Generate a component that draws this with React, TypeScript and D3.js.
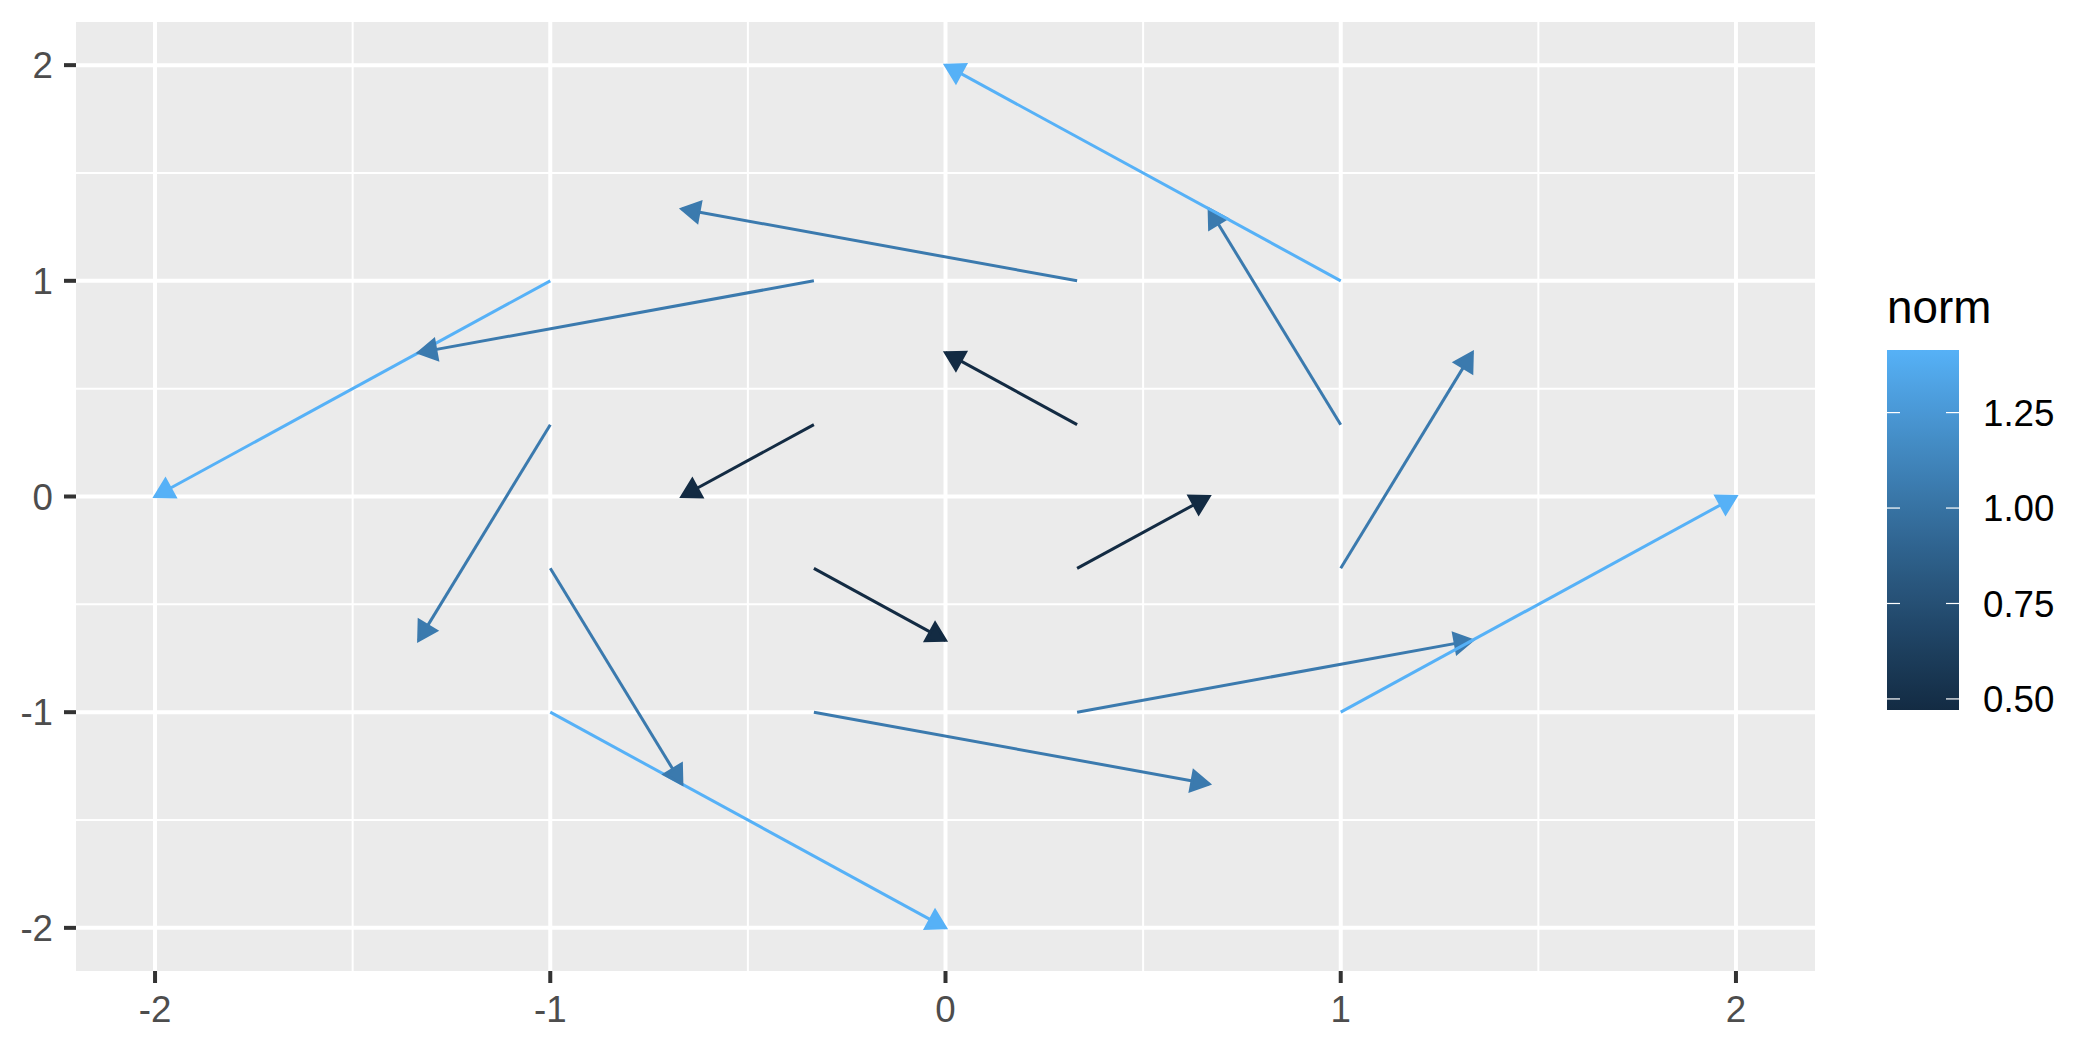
import { useMemo } from 'react';
import * as d3 from 'd3';

// arrow start points, end points and norm
const x0 = [-1, -0.333, 0.333, 1, -1, -0.333, 0.333, 1, -1, -0.333, 0.333, 1, -1, -0.333, 0.333, 1];
const y0 = [-1, -1, -1, -1, -0.333, -0.333, -0.333, -0.333, 0.333, 0.333, 0.333, 0.333, 1, 1, 1, 1];
const x1 = [0, 0.667, 1.333, 2, -0.667, 0, 0.667, 1.333, -1.333, -0.667, 0, 0.667, -2, -1.333, -0.667, 0];
const y1 = [-2, -1.333, -0.667, 0, -1.333, -0.667, 0, 0.667, -0.667, 0, 0.667, 1.333, 0, 0.667, 1.333, 2];
const norm = [1.414, 1.054, 1.054, 1.414, 1.054, 0.471, 0.471, 1.054, 1.054, 0.471, 0.471, 1.054, 1.414, 1.054, 1.054, 1.414];

const axisTicks = [-2, -1, 0, 1, 2];
const minorTicks = [-1.5, -0.5, 0.5, 1.5];
const legendTicks = [0.5, 0.75, 1.0, 1.25];
const legendTitle = 'norm';

const W = 2100;
const H = 1050;
const panel = { left: 76, right: 1815, top: 22, bottom: 971 };
const bar = { left: 1887, width: 72, top: 350, bottom: 710 };
const FONT = '"Liberation Sans", Arial, sans-serif';
const HEAD = 20;

export default function App() {
  const x = d3.scaleLinear().domain([-2.2, 2.2]).range([panel.left, panel.right]);
  const y = d3.scaleLinear().domain([-2.2, 2.2]).range([panel.bottom, panel.top]);
  const nExt = d3.extent(norm) as [number, number];
  const color = d3
    .scaleLinear<string>()
    .domain(nExt)
    .range(['#132B43', '#56B1F7'])
    .interpolate(d3.interpolateLab);
  const barY = d3.scaleLinear().domain(nExt).range([bar.bottom, bar.top]);

  const stops = useMemo(() => d3.range(0, 1.0001, 0.05), []);

  const arrows = x0.map((_, i) => {
    const sx = x(x0[i]);
    const sy = y(y0[i]);
    const ex = x(x1[i]);
    const ey = y(y1[i]);
    const a = Math.atan2(ey - sy, ex - sx);
    const p1 = [ex - HEAD * Math.cos(a - Math.PI / 6), ey - HEAD * Math.sin(a - Math.PI / 6)];
    const p2 = [ex - HEAD * Math.cos(a + Math.PI / 6), ey - HEAD * Math.sin(a + Math.PI / 6)];
    return { sx, sy, ex, ey, head: `${ex},${ey} ${p1[0]},${p1[1]} ${p2[0]},${p2[1]}`, c: color(norm[i]) };
  });

  return (
    <div style={{ position: 'absolute', left: 0, top: 0 }}>
      <svg width={W} height={H} style={{ display: 'block', background: '#fff' }} fontFamily={FONT}>
        <defs>
          <linearGradient id="normGrad" x1="0" y1="1" x2="0" y2="0">
            {stops.map((t) => (
              <stop key={t} offset={t} stopColor={color(nExt[0] + t * (nExt[1] - nExt[0]))} />
            ))}
          </linearGradient>
        </defs>

        {/* panel */}
        <rect
          x={panel.left}
          y={panel.top}
          width={panel.right - panel.left}
          height={panel.bottom - panel.top}
          fill="#EBEBEB"
        />
        {minorTicks.map((t) => (
          <g key={'m' + t}>
            <line x1={x(t)} x2={x(t)} y1={panel.top} y2={panel.bottom} stroke="#fff" strokeWidth={2} />
            <line x1={panel.left} x2={panel.right} y1={y(t)} y2={y(t)} stroke="#fff" strokeWidth={2} />
          </g>
        ))}
        {axisTicks.map((t) => (
          <g key={'M' + t}>
            <line x1={x(t)} x2={x(t)} y1={panel.top} y2={panel.bottom} stroke="#fff" strokeWidth={4} />
            <line x1={panel.left} x2={panel.right} y1={y(t)} y2={y(t)} stroke="#fff" strokeWidth={4} />
          </g>
        ))}

        {/* arrows */}
        {arrows.map((d, i) => (
          <g key={i}>
            <line x1={d.sx} y1={d.sy} x2={d.ex} y2={d.ey} stroke={d.c} strokeWidth={3} />
            <polygon points={d.head} fill={d.c} stroke={d.c} strokeWidth={3} strokeLinejoin="miter" />
          </g>
        ))}

        {/* axes */}
        {axisTicks.map((t) => (
          <g key={'ax' + t}>
            <line x1={x(t)} x2={x(t)} y1={panel.bottom} y2={panel.bottom + 12} stroke="#333333" strokeWidth={4} />
            <text x={x(t)} y={1022} textAnchor="middle" fontSize={36.7} fill="#4D4D4D">
              {t}
            </text>
            <line x1={panel.left - 12} x2={panel.left} y1={y(t)} y2={y(t)} stroke="#333333" strokeWidth={4} />
            <text x={53} y={y(t)} dy="0.36em" textAnchor="end" fontSize={36.7} fill="#4D4D4D">
              {t}
            </text>
          </g>
        ))}

        {/* legend */}
        <text x={bar.left} y={323} fontSize={45.8} fill="#000">
          {legendTitle}
        </text>
        <rect x={bar.left} y={bar.top} width={bar.width} height={bar.bottom - bar.top} fill="url(#normGrad)" />
        {legendTicks.map((t) => (
          <g key={'l' + t}>
            <line x1={bar.left} x2={bar.left + 13} y1={barY(t)} y2={barY(t)} stroke="#fff" strokeWidth={1.2} />
            <line
              x1={bar.left + bar.width - 13}
              x2={bar.left + bar.width}
              y1={barY(t)}
              y2={barY(t)}
              stroke="#fff"
              strokeWidth={1.2}
            />
            <text x={1983} y={barY(t)} dy="0.36em" fontSize={36.7} fill="#000">
              {t.toFixed(2)}
            </text>
          </g>
        ))}
      </svg>
    </div>
  );
}
